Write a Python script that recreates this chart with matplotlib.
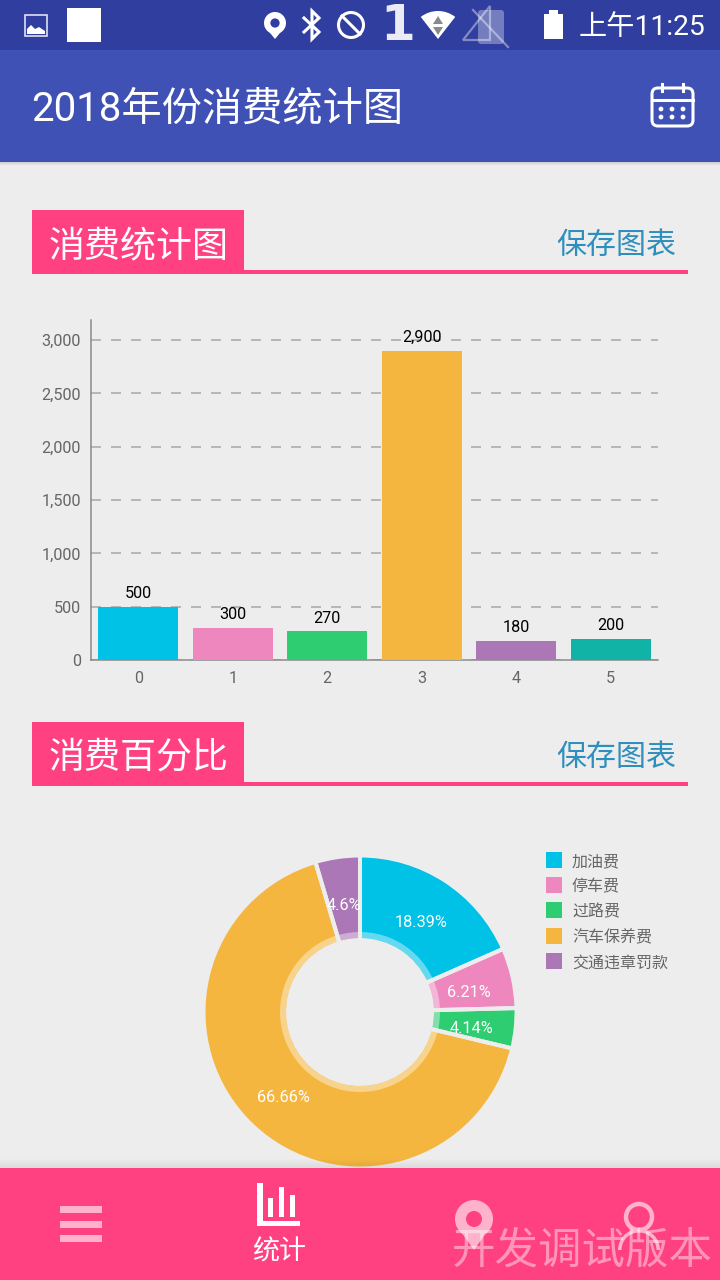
"""Phone screenshot of a yearly spending screen: bar chart plus donut chart."""
import matplotlib
matplotlib.use("Agg")
import matplotlib.pyplot as plt
from matplotlib.patches import Circle, FancyBboxPatch, Polygon, Rectangle, Wedge

plt.rcParams["font.family"] = ["Roboto", "Noto Sans CJK SC", "DejaVu Sans"]
plt.rcParams["lines.scale_dashes"] = False

# bar chart
BAR_CATS = [0, 1, 2, 3, 4, 5]
BAR_VALUES = [500, 300, 270, 2900, 180, 200]
BAR_COLORS = ["#00C1E6", "#EE87BE", "#2ECD71", "#F4B63F", "#AB77B6", "#10B3A5"]
Y_TICKS = [0, 500, 1000, 1500, 2000, 2500, 3000]

# donut chart
PIE_LABELS = ["加油费", "停车费", "过路费", "汽车保养费", "交通违章罚款"]
PIE_VALUES = [18.39, 6.21, 4.14, 66.66, 4.6]
PIE_COLORS = BAR_COLORS[:5]

BG = "#EDEDED"
PINK = "#FF4081"
INDIGO = "#3F51B5"
INDIGO_DARK = "#303F9F"
LINK = "#2E8FBC"
PX = 72 / 100  # font points per pixel at dpi 100


def px_axes(fig, left, top, right, bottom, **kw):
    """Axes placed by screen pixels (y counted from the top)."""
    return fig.add_axes([left / 720, 1 - bottom / 1280, (right - left) / 720, (bottom - top) / 1280], **kw)


def section_header(ax, top, title):
    ax.add_patch(Rectangle((32, top), 212, 60, fc=PINK, ec="none"))
    ax.add_patch(Rectangle((32, top + 60), 656, 4, fc=PINK, ec="none"))
    ax.text(48.5, top + 36, title, color="white", fontsize=36 * PX, va="center", ha="left")
    ax.text(556, top + 36, "保存图表", color=LINK, fontsize=30 * PX, va="center", ha="left")


def pin(ax, cx, top, w, h, fc, hole, alpha=1.0):
    r = w / 2
    cy = top + r
    ax.add_patch(Circle((cx, cy), r, fc=fc, ec="none", alpha=alpha))
    ax.add_patch(Polygon([(cx - r * 0.95, cy + r * 0.3), (cx + r * 0.95, cy + r * 0.3), (cx, top + h)],
                         fc=fc, ec="none", alpha=alpha))
    ax.add_patch(Circle((cx, cy), r * 0.42, fc=hole, ec="none"))


def draw_status_bar(ax):
    ax.add_patch(Rectangle((0, 0), 720, 50, fc=INDIGO_DARK, ec="none"))
    # picture icon
    ax.add_patch(Rectangle((25, 15), 22, 21, fc="none", ec="#DDE0F2", lw=1.2))
    ax.add_patch(Polygon([(27, 34), (27, 29), (31, 25), (35, 29), (39, 27), (45, 31), (45, 34)], fc="white", ec="none"))
    ax.add_patch(Rectangle((67, 8), 34, 34, fc="white", ec="none"))
    pin(ax, 275, 12, 22, 27, "white", INDIGO_DARK)
    # bluetooth
    ax.plot([304, 319, 312, 312, 319, 304], [18, 32, 39, 11, 18, 32], color="white", lw=2.2, solid_joinstyle="miter")
    # do not disturb
    ax.add_patch(Circle((351, 25), 12.5, fc="none", ec="white", lw=2.2))
    ax.plot([342, 360], [16, 34], color="white", lw=2.2)
    ax.text(398, 26, "1", color="white", fontsize=50 * PX, ha="center", va="center",
            family=["DejaVu Sans"], fontweight="bold", alpha=0.9)
    # wifi
    ax.add_patch(Wedge((438, 39), 28, 232, 308, fc="white", ec="none"))
    ax.add_patch(Polygon([(433, 24), (443, 24), (438, 16)], fc="#8A8A8A", ec="none"))
    ax.add_patch(Polygon([(433, 27), (443, 27), (438, 35)], fc="#8A8A8A", ec="none"))
    # no sim / no signal, dimmed
    ax.add_patch(FancyBboxPatch((478, 10), 26, 34, boxstyle="round,pad=0,rounding_size=3",
                                fc="white", ec="none", alpha=0.33))
    ax.add_patch(Polygon([(463, 40), (490, 6), (490, 40)], fc="none", ec="white", lw=1.6, alpha=0.4))
    ax.plot([473, 508], [10, 47], color="white", lw=1.6, alpha=0.4)
    # battery
    ax.add_patch(Rectangle((544, 14), 19, 25, fc="white", ec="none"))
    ax.add_patch(Rectangle((549, 10), 9, 4, fc="white", ec="none"))
    ax.text(579, 27.5, "上午11:25", color="white", fontsize=28.2 * PX, ha="left", va="center")


def draw_toolbar(ax):
    ax.add_patch(Rectangle((0, 50), 720, 112, fc=INDIGO, ec="none"))
    ax.text(31.5, 109, "2018年份消费统计图", color="white", fontsize=40.3 * PX, ha="left", va="center")
    ax.add_patch(FancyBboxPatch((652, 88), 41, 38, boxstyle="round,pad=0,rounding_size=6",
                                fc="none", ec="white", lw=2.2))
    ax.plot([652, 693], [100, 100], color="white", lw=2.2)
    for x in (662, 683):
        ax.plot([x, x], [84, 91], color="white", lw=2.2)
    for row in (109, 117):
        for x in (661, 672, 683):
            ax.add_patch(Circle((x, row), 2.4, fc="white", ec="none"))
    for i in range(3):
        ax.add_patch(Rectangle((0, 162 + i), 720, 1, fc="black", ec="none", alpha=0.12 - i * 0.04))


def draw_legend(ax):
    rows = [860, 885, 910, 936, 961]
    for y, label, color in zip(rows, PIE_LABELS, PIE_COLORS):
        ax.add_patch(Rectangle((546, y - 8), 16, 16, fc=color, ec="none"))
        ax.text(572, y + 2, label, color="#666666", fontsize=16 * PX, ha="left", va="center")


def draw_nav(ax):
    for i in range(9):
        ax.add_patch(Rectangle((0, 1159 + i), 720, 1, fc="black", ec="none", alpha=0.008 * (i + 1)))
    ax.add_patch(Rectangle((0, 1168), 720, 112, fc=PINK, ec="none"))
    pale = "#FFB2CC"
    for y in (1206, 1221, 1235):
        ax.add_patch(Rectangle((60, y), 42, 7, fc=pale, ec="none"))
    # statistics icon
    ax.add_patch(Rectangle((257, 1183), 5.5, 43, fc="white", ec="none"))
    ax.add_patch(Rectangle((257, 1220.5), 43, 5.5, fc="white", ec="none"))
    ax.add_patch(Rectangle((268, 1198), 5, 19, fc="white", ec="none"))
    ax.add_patch(Rectangle((279, 1187), 5, 30, fc="white", ec="none"))
    ax.add_patch(Rectangle((290, 1195), 5, 22, fc="white", ec="none"))
    ax.text(279, 1252.5, "统计", color="white", fontsize=27 * PX, ha="center", va="center")
    pin(ax, 474, 1200, 38, 50, pale, PINK)
    # person icon
    ax.add_patch(Circle((639, 1217), 13, fc="none", ec=pale, lw=3.2))
    ax.add_patch(Wedge((639, 1250), 21, 180, 360, width=3.5, fc=pale, ec="none"))
    ax.text(582, 1252, "开发调试版本", color="white", alpha=0.45, fontsize=43.5 * PX, ha="center", va="center")


fig = plt.figure(figsize=(7.2, 12.8), dpi=100, facecolor=BG)

# chrome behind the charts
back = px_axes(fig, 0, 0, 720, 1280, zorder=0)
back.set_xlim(0, 720)
back.set_ylim(1280, 0)
back.axis("off")
draw_status_bar(back)
draw_toolbar(back)
section_header(back, 210, "消费统计图")
section_header(back, 722, "消费百分比")
draw_legend(back)

# bar chart
ax = px_axes(fig, 91, 320, 658, 660, zorder=1)
ax.patch.set_alpha(0)
ax.bar(BAR_CATS, BAR_VALUES, width=0.845, color=BAR_COLORS, zorder=3)
for x, v in zip(BAR_CATS, BAR_VALUES):
    ax.annotate(f"{v:,}", (x, v), xytext=(0, 4), textcoords="offset points",
                ha="center", va="bottom", fontsize=16.3 * PX, color="black", zorder=4)
ax.set_xlim(-0.5, 5.5)
ax.set_ylim(0, 3187.5)
ax.set_xticks(BAR_CATS)
ax.set_yticks(Y_TICKS)
ax.set_yticklabels([f"{v:,}" for v in Y_TICKS])
ax.tick_params(length=0, labelsize=16.3 * PX, labelcolor="#666666")
ax.tick_params(axis="y", pad=10 * PX)
ax.tick_params(axis="x", pad=11 * PX)
ax.yaxis.grid(True, color="#A6A6A6", lw=1.5 * PX, linestyle=(0, (10 * PX, 10 * PX)), zorder=1)
ax.set_axisbelow(True)
for side in ("top", "right"):
    ax.spines[side].set_visible(False)
for side in ("left", "bottom"):
    ax.spines[side].set_color("#888888")
    ax.spines[side].set_linewidth(1.5 * PX)

# donut, data units are screen pixels from the centre
pie_ax = px_axes(fig, 190, 842, 530, 1182, zorder=1)
_, _, autotexts = pie_ax.pie(
    PIE_VALUES, colors=PIE_COLORS, radius=156.5, startangle=90, counterclock=False,
    autopct=lambda p: f"{round(p, 2):g}%", pctdistance=112 / 156.5,
    wedgeprops={"width": 84.5},
    textprops={"fontsize": 16.3 * PX, "color": "white"},
)
for t in autotexts:
    t.set_y(t.get_position()[1] - 4.5)
# lighter inner rim, then the background-coloured gaps over everything
pie_ax.add_patch(Wedge((0, 0), 80, 0, 360, width=6, fc="white", ec="none", alpha=0.4))
gaps, _ = pie_ax.pie(
    PIE_VALUES, radius=156.5, startangle=90, counterclock=False,
    wedgeprops={"width": 84.5, "edgecolor": BG, "linewidth": 4 * PX},
)
for w in gaps:
    w.set_facecolor("none")
pie_ax.set_xlim(-170, 170)
pie_ax.set_ylim(-170, 170)

# bottom navigation sits above the donut
front = px_axes(fig, 0, 0, 720, 1280, zorder=2)
front.patch.set_alpha(0)
front.set_xlim(0, 720)
front.set_ylim(1280, 0)
front.axis("off")
draw_nav(front)

fig.savefig("out.png", dpi=100, facecolor=BG)
plt.close(fig)
